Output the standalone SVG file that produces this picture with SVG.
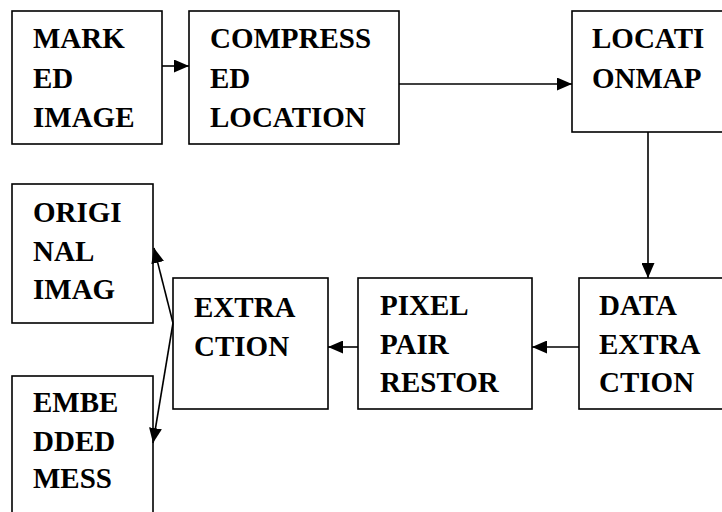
<svg xmlns="http://www.w3.org/2000/svg" width="722" height="512" viewBox="0 0 722 512">
<defs>
<marker id="ah" viewBox="0 0 15 13" refX="15" refY="6.5" markerWidth="15" markerHeight="13" markerUnits="userSpaceOnUse" orient="auto">
<path d="M0,0 L15,6.5 L0,13 Z" fill="#000"/>
</marker>
</defs>
<style>
rect{fill:#fff;stroke:#000;stroke-width:1.6}
text{font-family:"Liberation Serif","Times New Roman",serif;font-weight:bold;font-size:29px;fill:#000}
.c{fill:none;stroke:#000;stroke-width:1.6}
</style>
<rect x="0" y="0" width="722" height="512" style="stroke:none"/>
<g id="marked">
<rect x="12" y="11" width="150" height="133"/>
<text x="33" y="48">MARK</text><text x="33" y="88">ED</text><text x="33" y="127">IMAGE</text>
</g>
<g id="compressed">
<rect x="189" y="11" width="210" height="133"/>
<text x="210" y="48">COMPRESS</text><text x="210" y="88">ED</text><text x="210" y="127">LOCATION</text>
</g>
<g id="locationmap">
<rect x="572" y="11" width="160" height="121"/>
<text x="592" y="48">LOCATI</text><text x="592" y="88">ONMAP</text>
</g>
<g id="original">
<rect x="12" y="184" width="141" height="139"/>
<text x="33" y="222">ORIGI</text><text x="33" y="261">NAL</text><text x="33" y="299">IMAG</text>
</g>
<g id="extraction">
<rect x="173" y="278" width="155" height="131"/>
<text x="194" y="317">EXTRA</text><text x="194" y="356">CTION</text>
</g>
<g id="pixel">
<rect x="358" y="278" width="174" height="131"/>
<text x="380" y="315">PIXEL</text><text x="380" y="354">PAIR</text><text x="380" y="392">RESTOR</text>
</g>
<g id="data">
<rect x="579" y="278" width="153" height="131"/>
<text x="599" y="315">DATA</text><text x="599" y="354">EXTRA</text><text x="599" y="392">CTION</text>
</g>
<g id="embedded">
<rect x="12" y="376" width="141" height="150"/>
<text x="33" y="412">EMBE</text><text x="33" y="451">DDED</text><text x="33" y="488">MESS</text>
</g>
<g id="connectors">
<line class="c" x1="162" y1="66" x2="189" y2="66" marker-end="url(#ah)"/>
<line class="c" x1="399" y1="84" x2="572" y2="84" marker-end="url(#ah)"/>
<line class="c" x1="648" y1="132" x2="648" y2="278" marker-end="url(#ah)"/>
<line class="c" x1="579" y1="347" x2="532" y2="347" marker-end="url(#ah)"/>
<line class="c" x1="358" y1="347" x2="328" y2="347" marker-end="url(#ah)"/>
<line class="c" x1="173" y1="323" x2="154" y2="248" marker-end="url(#ah)"/>
<line class="c" x1="173" y1="323" x2="153" y2="443" marker-end="url(#ah)"/>
</g>
</svg>
